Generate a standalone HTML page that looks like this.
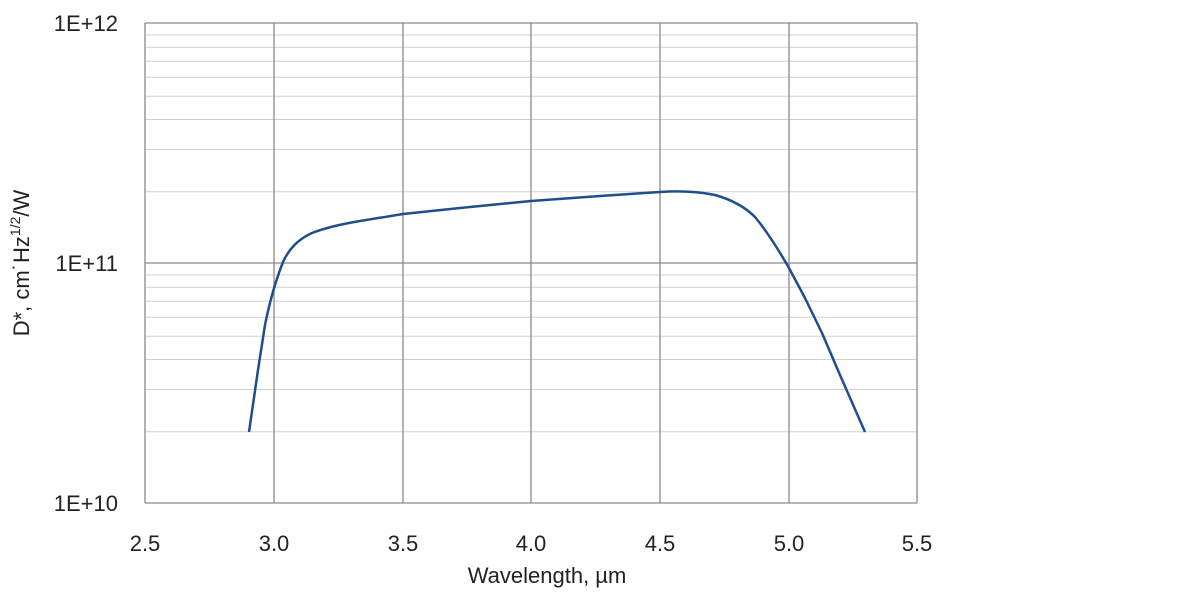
<!DOCTYPE html>
<html><head><meta charset="utf-8"><style>
html,body{margin:0;padding:0;background:#fff;width:1200px;height:600px;overflow:hidden}
text{font-family:"Liberation Sans",sans-serif;fill:#222}
</style></head><body>
<svg width="1200" height="600" xmlns="http://www.w3.org/2000/svg">
<g stroke="#d0d0d0" stroke-width="1">
<line x1="145" x2="917" y1="431.8" y2="431.8"/><line x1="145" x2="917" y1="389.5" y2="389.5"/><line x1="145" x2="917" y1="359.5" y2="359.5"/><line x1="145" x2="917" y1="336.3" y2="336.3"/><line x1="145" x2="917" y1="317.3" y2="317.3"/><line x1="145" x2="917" y1="301.2" y2="301.2"/><line x1="145" x2="917" y1="287.3" y2="287.3"/><line x1="145" x2="917" y1="275.0" y2="275.0"/>
<line x1="145" x2="917" y1="191.8" y2="191.8"/><line x1="145" x2="917" y1="149.5" y2="149.5"/><line x1="145" x2="917" y1="119.5" y2="119.5"/><line x1="145" x2="917" y1="96.3" y2="96.3"/><line x1="145" x2="917" y1="77.3" y2="77.3"/><line x1="145" x2="917" y1="61.2" y2="61.2"/><line x1="145" x2="917" y1="47.3" y2="47.3"/><line x1="145" x2="917" y1="35.0" y2="35.0"/>
</g>
<g stroke="#8a8a8a" stroke-width="1.3">
<line x1="145" x2="917" y1="23" y2="23"/><line x1="145" x2="917" y1="263" y2="263"/><line x1="145" x2="917" y1="503" y2="503"/>
<line x1="145" x2="145" y1="23" y2="503"/><line x1="274" x2="274" y1="23" y2="503"/><line x1="403" x2="403" y1="23" y2="503"/><line x1="531" x2="531" y1="23" y2="503"/><line x1="660" x2="660" y1="23" y2="503"/><line x1="789" x2="789" y1="23" y2="503"/><line x1="917" x2="917" y1="23" y2="503"/>
</g>
<path d="M249,432 L258,370 L265,325 Q272,290 283,262 Q292,242 312,233 Q330,226 360,221 L403,214 L460,208 L531,201 L600,196 L660,192 Q690,190 715,195 Q740,202 755,217 Q770,235 789,268 L805,298 L822,333 L840,375 L865,432" fill="none" stroke="#1f4e8c" stroke-width="2.5" stroke-linejoin="round"/>
<g font-size="22" text-anchor="end">
<text x="118" y="31">1E+12</text><text x="118" y="271">1E+11</text><text x="118" y="511">1E+10</text>
</g>
<g font-size="22" text-anchor="middle">
<text x="145" y="551">2.5</text><text x="274" y="551">3.0</text><text x="403" y="551">3.5</text><text x="531" y="551">4.0</text><text x="660" y="551">4.5</text><text x="789" y="551">5.0</text><text x="917" y="551">5.5</text>
<text x="547" y="583">Wavelength, µm</text>
</g>
<text font-size="22" text-anchor="middle" transform="translate(29,263) rotate(-90)">D*, cm˙Hz<tspan font-size="14" dy="-9">1/2</tspan><tspan dy="9">/W</tspan></text>
</svg>
</body></html>
